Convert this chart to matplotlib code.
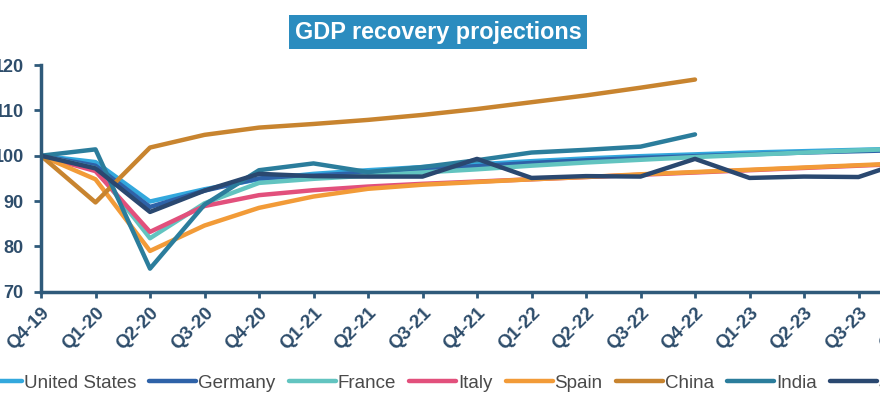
import matplotlib
matplotlib.use("Agg")
import matplotlib.pyplot as plt

plt.rcParams['font.family'] = ['Liberation Sans', 'DejaVu Sans']

quarters = ["Q4-19", "Q1-20", "Q2-20", "Q3-20", "Q4-20", "Q1-21", "Q2-21", "Q3-21",
            "Q4-21", "Q1-22", "Q2-22", "Q3-22", "Q4-22", "Q1-23", "Q2-23", "Q3-23", "Q4-23"]

united_states = [100, 98.6, 89.9, 92.6, 94.8, 96.0, 96.8, 97.5, 98.1, 98.8, 99.4, 99.9, 100.3, 100.7, 101.0, 101.3, 101.6]
germany = [100, 97.8, 88.7, 92.3, 95.0, 95.6, 96.3, 97.0, 97.7, 98.4, 99.0, 99.5, 99.9, 100.3, 100.7, 101.0, 101.3]
france = [100, 97.2, 81.8, 89.5, 94.0, 94.9, 95.6, 96.3, 97.0, 97.8, 98.5, 99.1, 99.7, 100.2, 100.7, 101.2, 101.6]
italy = [100, 96.6, 83.2, 88.9, 91.3, 92.4, 93.2, 93.8, 94.3, 94.8, 95.3, 95.8, 96.3, 96.8, 97.3, 97.8, 98.3]
spain = [100, 94.8, 79.0, 84.6, 88.5, 91.0, 92.7, 93.6, 94.2, 94.8, 95.3, 95.9, 96.4, 96.9, 97.4, 97.9, 98.4]
china = [100, 89.7, 101.8, 104.6, 106.2, 107.0, 107.9, 109.0, 110.3, 111.8, 113.3, 115.0, 116.8]
india = [100, 101.4, 75.1, 89.2, 96.8, 98.3, 96.4, 97.5, 99.0, 100.7, 101.3, 102.0, 104.7]
japan = [100, 97.2, 87.6, 92.3, 96.0, 95.5, 95.4, 95.4, 99.3, 95.1, 95.5, 95.4, 99.3, 95.1, 95.4, 95.3, 99.3]

series = [
    ("United States", united_states, "#33a8dd"),
    ("Germany", germany, "#2e62a8"),
    ("France", france, "#62c4c0"),
    ("Italy", italy, "#e2507c"),
    ("Spain", spain, "#f29b38"),
    ("China", china, "#c8842f"),
    ("India", india, "#2b7d9c"),
    ("Japan", japan, "#2a4870"),
]

axis_color = "#2f5a7a"
text_color = "#2e4d6b"

fig = plt.figure(figsize=(8.8, 3.98), dpi=100)
ax = fig.add_axes([41 / 880, 0.267, 16.5 * 54.5 / 880, 0.5696])

for name, values, color in series:
    ax.plot(range(len(values)), values, color=color, linewidth=3.2, label=name,
            solid_joinstyle="round", solid_capstyle="round")

ax.set_xlim(0, 16.5)
ax.set_ylim(70, 120)
ax.set_yticks([70, 80, 90, 100, 110, 120])
ax.set_xticks(range(len(quarters)))
ax.set_xticklabels(quarters, rotation=45, ha="right", rotation_mode="anchor")

for side in ["top", "right"]:
    ax.spines[side].set_visible(False)
for side in ["left", "bottom"]:
    ax.spines[side].set_color(axis_color)
    ax.spines[side].set_linewidth(2.5)

ax.tick_params(axis="y", direction="out", length=5, width=2, color=axis_color,
               labelcolor=text_color, labelsize=13, pad=7.5)
ax.tick_params(axis="x", direction="out", length=4, width=2, color=axis_color,
               labelcolor=text_color, labelsize=13.5, pad=5)
for lab in ax.get_xticklabels() + ax.get_yticklabels():
    lab.set_fontweight("bold")

fig.text(438 / 880, 1 - 32 / 398, "GDP recovery projections", ha="center", va="center",
         color="white", fontsize=16.8, fontweight="bold",
         bbox=dict(boxstyle="square,pad=0.25", facecolor="#2b8cbf", edgecolor="none"))

fig.legend(loc="center left", bbox_to_anchor=(-25 / 880, 1 - 383 / 398), ncol=8,
           frameon=False, fontsize=13.5, handlelength=2.5, handletextpad=0.1,
           columnspacing=0.71, borderpad=0, borderaxespad=0, labelcolor="#4a4a4a")

fig.savefig("out.png", dpi=100, facecolor="white")
